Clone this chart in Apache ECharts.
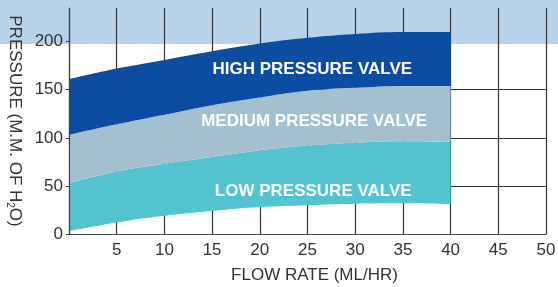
<!DOCTYPE html>
<html><head><meta charset="utf-8">
<script src="https://cdn.jsdelivr.net/npm/echarts@6/dist/echarts.min.js"></script>
<style>html,body{margin:0;padding:0;background:#fff}#c{width:558px;height:287px}</style>
</head><body><div id="c"></div>
<script>
var flowRate = [0, 5, 10, 15, 20, 25, 30, 35, 40, 45, 50];
var lowBottom = [3, 12, 19, 24, 28, 30, 31.5, 32, 31];
var lowTop = [53, 65, 73, 80, 87, 92, 95, 96.5, 96];
var mediumTop = [103, 114, 124, 134, 142, 149, 152, 154, 154];
var highTop = [161, 172, 181, 190, 198, 204, 208, 210, 210];
var xTicks = [5, 10, 15, 20, 25, 30, 35, 40, 45, 50];
var yTicks = [0, 50, 100, 150, 200];
var bandNames = ['LOW PRESSURE VALVE', 'MEDIUM PRESSURE VALVE', 'HIGH PRESSURE VALVE'];
var labelAt = [[25.6, 44], [25.7, 117], [25.5, 171]];

var FONT = "'Liberation Sans', Arial, sans-serif";
function diff(a, b) { return a.map(function (v, i) { return v - b[i]; }); }

var colors = ['#53c4cf', '#a3c0cf', '#0c4da2'];
var uppers = [lowTop, mediumTop, highTop];
var lowers = [lowBottom, lowTop, mediumTop];

var series = [{
  type: 'line', stack: 'p', xAxisIndex: 1, data: lowBottom, smooth: 0.4, showSymbol: false,
  lineStyle: { width: 0, opacity: 0 }, silent: true, z: 2
}];
for (var i = 0; i < 3; i++) {
  series.push({
    type: 'line', stack: 'p', xAxisIndex: 1, data: diff(uppers[i], lowers[i]), smooth: 0.4, showSymbol: false,
    lineStyle: { width: 0, opacity: 0 }, areaStyle: { color: colors[i], opacity: 1 }, z: 2
  });
}
series.push({
  type: 'line', xAxisIndex: 0, data: [], z: 5, silent: true,
  markPoint: {
    symbol: 'circle', symbolSize: 0, silent: true,
    label: { show: true, position: 'inside', color: '#fff', fontFamily: FONT, fontWeight: 'bold', fontSize: 17, formatter: '{b}' },
    data: bandNames.map(function (n, i) { return { name: n, coord: labelAt[i] }; })
  }
});

var chart = echarts.init(document.getElementById('c'), null, { renderer: 'canvas' });
chart.setOption({
  animation: false,
  graphic: [{ type: 'rect', z: -100, shape: { x: 0, y: 0, width: 558, height: 44 }, style: { fill: '#b8d2ea' } }],
  grid: { left: 69, right: 12, top: 8, bottom: 53, outerBoundsMode: 'none', containLabel: false },
  xAxis: [{
    type: 'value', min: 0, max: 50, interval: 5,
    name: 'FLOW RATE (ML/HR)', nameLocation: 'middle', nameGap: 33,
    nameTextStyle: { fontFamily: FONT, fontSize: 17, color: '#333', padding: [0, 0, 0, 14] },
    axisLine: { show: true, lineStyle: { color: '#444', width: 1.2 } },
    axisTick: { show: false },
    axisLabel: { customValues: xTicks, fontFamily: FONT, fontSize: 17, color: '#333', margin: 8 },
    splitLine: { show: true, lineStyle: { color: '#333', width: 1.2 } }
  }, {
    type: 'category', data: flowRate, boundaryGap: false, show: false
  }],
  yAxis: [{
    type: 'value', min: 0, max: 235, interval: 50,
    name: '{a|PRESSURE (M.M. OF H}{s|2}{a|O)}', nameLocation: 'middle', nameRotate: -90, nameGap: 44,
    nameTextStyle: { fontFamily: FONT, fontSize: 17, color: '#333',
      rich: { a: { fontFamily: FONT, fontSize: 17, color: '#333', lineHeight: 20, verticalAlign: 'middle' },
              s: { fontFamily: FONT, fontSize: 10, color: '#333', lineHeight: 20, verticalAlign: 'bottom' } } },
    axisLine: { show: false },
    axisTick: { show: true, length: 3, customValues: yTicks, lineStyle: { color: '#333' } },
    axisLabel: { customValues: yTicks, fontFamily: FONT, fontSize: 17, color: '#333', margin: 6 },
    splitLine: { show: true, showMaxLine: false, lineStyle: { color: '#333', width: 1.2 } }
  }, {
    type: 'value', min: 0, max: 235, position: 'left', z: 10,
    axisLine: { show: true, onZero: false, lineStyle: { color: '#444', width: 1.2 } },
    axisTick: { show: false }, axisLabel: { show: false }, splitLine: { show: false }
  }],
  series: series
});
</script></body></html>
